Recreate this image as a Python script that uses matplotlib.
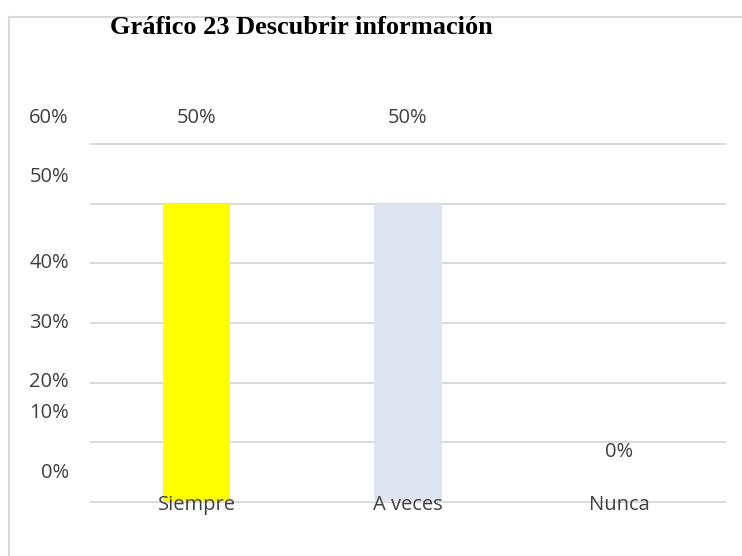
import matplotlib
matplotlib.use("Agg")
import matplotlib.pyplot as plt
from matplotlib.lines import Line2D
from matplotlib.transforms import blended_transform_factory

# Data
categories = ["Siempre", "A veces", "Nunca"]
values = [50, 50, 0]
bar_colors = ["#FFFF00", "#DEE5F1", "#A5A5A5"]
tick_values = [0, 10, 20, 30, 40, 50, 60]
tick_labels = ["0%", "10%", "20%", "30%", "40%", "50%", "60%"]
title = "Gráfico 23 Descubrir información"

# label positions as drawn in the reference (offset from gridlines)
tick_label_pos = [4.9, 14.9, 20.1, 30.0, 40.1, 54.4, 64.4]

FONT = "Open Sans"
FS = 14.5
TXT = "#404040"

fig = plt.figure(figsize=(7.42, 5.56), dpi=100)
fig.patch.set_facecolor("white")

# chart border (top & left visible)
border_col = "#D9D9D9"
fig.add_artist(Line2D([9/742, 1.0], [1 - 17/556, 1 - 17/556], color=border_col, lw=1.5, transform=fig.transFigure))
fig.add_artist(Line2D([9/742, 9/742], [1 - 17/556, 0.0], color=border_col, lw=1.5, transform=fig.transFigure))

ax = fig.add_axes([91/742, (556-502)/556, (725-91)/742, (502-144)/556])
ax.bar(range(len(categories)), values, width=0.32, color=bar_colors, zorder=2)
ax.set_xlim(-0.5, len(categories) - 0.5)
ax.set_ylim(0, 60)

ax.set_yticks(tick_values)
ax.set_yticklabels([""] * len(tick_values))
ax.tick_params(axis="y", which="both", length=0)
ax.yaxis.grid(True, which="major", color="#D9D9D9", lw=1.4, zorder=1)
for gl in ax.get_ygridlines():
    gl.set_clip_on(False)
ax.set_axisbelow(True)
ax.set_xticks([])
for s in ax.spines.values():
    s.set_visible(False)

# y labels (drawn offset from the gridlines, as in the reference)
ytrans = blended_transform_factory(fig.transFigure, ax.transData)
for lab, p in zip(tick_labels, tick_label_pos):
    ax.text(69/742, p, lab, transform=ytrans, ha="right", va="center",
            fontsize=FS, family=FONT, color=TXT, clip_on=False)

# category labels
for i, c in enumerate(categories):
    ax.text(i, -0.5, c, ha="center", va="center", fontsize=FS, family=FONT,
            color=TXT, zorder=5, clip_on=False)

# data labels
for i, v in enumerate(values):
    ypos = 64.3 if v > 0 else 8.4
    ax.text(i, ypos, f"{v}%", ha="center", va="center", fontsize=FS, family=FONT,
            color=TXT, zorder=5, clip_on=False)

fig.text(110/742, 1 - 28/556, title, ha="left", va="center", fontsize=19,
         fontweight="bold", family="Liberation Serif", color="black")

fig.savefig("out.png", dpi=100, facecolor="white")
